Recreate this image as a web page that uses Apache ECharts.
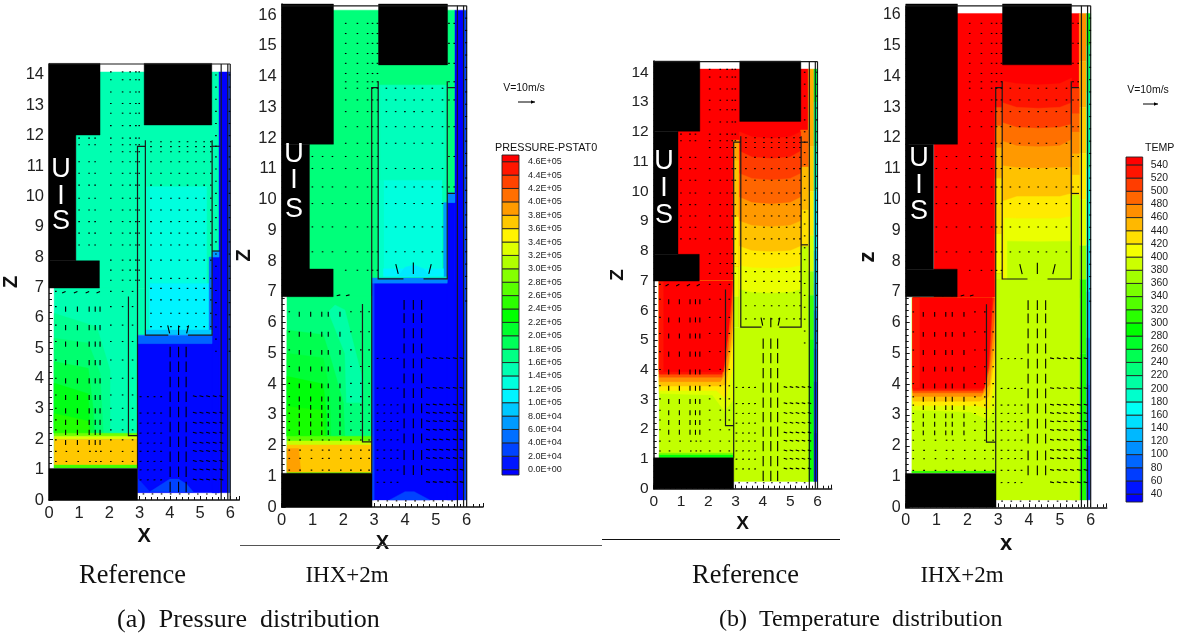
<!DOCTYPE html>
<html>
<head>
<meta charset="utf-8">
<style>html,body{margin:0;padding:0;background:#fff}#c{width:1181px;height:638px}</style>
<script src="https://cdn.jsdelivr.net/npm/echarts@6/dist/echarts.min.js"></script>
</head>
<body>
<div id="c"></div>
<script>
// ---------- legend scales ----------
const pressureLevels = [0,2e4,4e4,6e4,8e4,1e5,1.2e5,1.4e5,1.6e5,1.8e5,2e5,2.2e5,2.4e5,2.6e5,2.8e5,3e5,3.2e5,3.4e5,3.6e5,3.8e5,4e5,4.2e5,4.4e5,4.6e5];
const pressureLabels = ["0.0E+00","2.0E+04","4.0E+04","6.0E+04","8.0E+04","1.0E+05","1.2E+05","1.4E+05","1.6E+05","1.8E+05","2.0E+05","2.2E+05","2.4E+05","2.6E+05","2.8E+05","3.0E+05","3.2E+05","3.4E+05","3.6E+05","3.8E+05","4.0E+05","4.2E+05","4.4E+05","4.6E+05"];
const tempLevels = [40,60,80,100,120,140,160,180,200,220,240,260,280,300,320,340,360,380,400,420,440,460,480,500,520,540];

// ---------- solid structure (x0,x1,z0,z1) ----------
const refBlocks = [[0,1.69,12.02,14.38],[0,0.89,7.88,12.02],[0,1.67,6.98,7.88],[3.15,5.39,12.35,14.38],[0,2.93,0,1.04]];
const ihxBlocks = [[0,1.68,11.8,16.36],[0,0.9,7.74,11.8],[0,1.67,6.84,7.74],[3.14,5.38,14.38,16.36],[0,2.93,0,1.1]];

// ---------- baffles and walls, polylines of [x,z] ----------
const refBaffles = [
  [[0,14.36],[6,14.36]],
  [[2.93,1.04],[2.93,11.65],[3.19,11.65]],
  [[3.19,11.85],[3.19,5.43],[3.95,5.43]],
  [[4.6,5.43],[5.4,5.43],[5.4,11.85]],
  [[5.4,11.65],[5.65,11.65]],
  [[5.4,8.2],[5.65,8.2]],
  [[2.63,6.7],[2.63,2.12],[2.93,2.12]],
  [[5.7,0],[5.7,14.36]],[[5.92,0],[5.92,14.36]],[[6,0],[6,14.36]]
];
const ihxBaffles = [
  [[0,16.3],[6,16.3]],
  [[2.92,1.1],[2.92,13.64],[3.13,13.64]],
  [[3.13,13.85],[3.13,7.42],[3.95,7.42]],
  [[4.6,7.42],[5.37,7.42],[5.37,13.85]],
  [[5.37,13.64],[5.62,13.64]],
  [[5.37,10.2],[5.62,10.2]],
  [[2.62,6.6],[2.62,2.12],[2.92,2.12]],
  [[5.7,0],[5.7,16.3]],[[5.9,0],[5.9,16.3]],[[6,0],[6,16.3]]
];

// ---------- velocity vectors in m/s, groups of columns x rows ----------
const refVectors = [
  {xs:[0.97,1.3,1.5],zs:[11.92,11.7,11.14,10.76,10.37,9.94,9.55,9.17,8.79,8.4],u:0.3,v:0},
  {xs:[2.02,2.41,2.66,2.85,2.96],zs:[14.1,13.84,13.44,13.06,12.74,12.33,11.92,11.7,11.47,11.14,10.76,10.37,9.94,9.55,9.17,8.79,8.4,7.9,7.57,7.24],u:0.5,v:0},
  {xs:[3.35,3.68,4.01,4.29,4.56,4.84,5.11,5.33],zs:[11.8,11.64,11.47,11.14,10.76,10.37,9.94,9.55,9.17,8.79,8.4,7.9,7.3,6.97,6.59,6.15,5.71],u:0,v:-0.8},
  {xs:[5.5,5.95],zs:[14.0,13.6,13.2,12.8,12.4,12,11.65,11.3,10.9,10.5,10.1,9.7,9.3,8.9,8.5,8.1,7.7,7.3,6.9,6.5,6.1,5.7,5.3,4.9],u:1,v:0},
  {xs:[0.55,0.94,1.33,1.53,1.69],zs:[6.37,5.76,5.22,4.61,4.01,3.46,3.02,2.64,2.31,1.98],u:0,v:-3.2},
  {xs:[0.55,0.94,1.33,1.69],zs:[6.87],u:-2.2,v:-1},
  {xs:[0.2,2.02,2.41,2.74],zs:[6.87,6.37,5.76,5.22,4.61,4.01,3.46,3.02,2.64,2.31,1.98,1.6,1.27],u:0.5,v:-0.4},
  {xs:[0.55,0.94,1.33,1.53,1.69],zs:[1.6,1.27],u:0,v:-0.8},
  {xs:[4.01,4.29,4.54],zs:[5.05,4.56,4.06,3.57,3.07,2.58,2.09,1.6,1.1,0.6],u:0,v:-6.5},
  {xs:[3.93],zs:[5.75],u:1.2,v:-5},{xs:[4.62],zs:[5.75],u:-1.2,v:-5},{xs:[4.29],zs:[5.75],u:0,v:-6},
  {xs:[4.89,5.11,5.33,5.55,5.77],zs:[3.4,2.86,2.53,2.2,1.87,1.6,1.27,0.99,0.66],u:-2.4,v:0.6},
  {xs:[3.0,3.24,3.46,3.68],zs:[3.4,2.86,2.53,2.2,1.87,1.6,1.27,0.99,0.66],u:1.2,v:0.1},
  {xs:[3.1,3.4,3.7,4.0,4.3,4.6,4.9,5.2,5.5],zs:[0.2],u:0.8,v:0}
];
const ihxVectors = [
  {xs:[0.97,1.3,1.62],zs:[11.4,11.01,10.41,9.87,9.11,8.3],u:0.8,v:0},
  {xs:[2.05,2.43,2.76,2.92,3.08],zs:[15.73,15.4,15.08,14.75,14.43,14.1,13.83,13.62,13.24,12.86,12.37,11.83,11.4,11.01,10.41,9.87,9.11,8.3,7.7],u:0.6,v:0},
  {xs:[3.37,3.67,3.97,4.27,4.54,4.86,5.19],zs:[13.62,13.24,12.86,12.37,11.83,11.01,10.41,9.87,9.11,8.3],u:0,v:-0.8},
  {xs:[5.4,5.57],zs:[15.73,15.08,14.43,13.83,13.24,12.37,11.4,10.41],u:0.8,v:0},
  {xs:[5.95],zs:[15.9,15.5,15.1,14.7,14.3,13.9,13.5,13.1,12.7,12.3,11.9,11.5,11.1,10.7,10.3,9.9,9.5,9.1,8.7,8.3,7.9,7.5,7.1,6.7],u:1.2,v:0},
  {xs:[0.57,0.94,1.3,1.51,1.89],zs:[6.35,5.7,5.11,4.57,4.02,3.59,3.32,3.05,2.78,2.5],u:0,v:-3},
  {xs:[1.3,1.6,1.9,2.2],zs:[6.9],u:-2.2,v:-0.6},
  {xs:[0.22,2.22,2.54,2.81],zs:[6.35,5.7,5.11,4.57,4.02,3.59,3.32,3.05,2.78,2.5,2.18,1.85,1.58,1.2],u:0.6,v:-0.3},
  {xs:[0.57,0.94,1.3,1.51,1.89],zs:[2.18,1.85,1.58,1.2],u:0.4,v:-0.8},
  {xs:[3.97,4.27,4.54],zs:[6.73,6.3,5.81,5.32,4.83,4.34,3.86,3.37,2.88,2.39,1.85,1.36],u:0,v:-6},
  {xs:[3.7],zs:[7.9],u:1.5,v:-6},{xs:[4.85],zs:[7.9],u:-1.5,v:-6},{xs:[4.27],zs:[7.95],u:0,v:-7},
  {xs:[4.81,5.03,5.24,5.46,5.68,5.9],zs:[4.83,3.86,3.32,3.05,2.78,2.5,2.18,1.85,1.58,1.2,0.8],u:-2.4,v:0.5},
  {xs:[3.08,3.3,3.52,3.73],zs:[4.83,3.86,3.32,3.05,2.78,2.5,2.18,1.85,1.58,1.2,0.8],u:1.1,v:0.1},
  {xs:[3.1,3.4,3.7,4.0,4.3,4.6,4.9,5.2,5.5],zs:[0.2],u:0.8,v:0}
];

// ---------- fields: [value,x0,x1,z0,z1] or [value,x,z,x,z,...], painted in order ----------
const pressureRefCells = [
  [1.5e5,0.89,5.63,6.98,14.1],
  [1.5e5,2.93,3.19,5.43,6.98],
  [0,5.63,5.93,0.24,14.1],[0.3e5,5.93,6,0.24,14.1],
  [0.03e5,2.93,5.63,0.24,5.4],[0.03e5,5.4,5.63,0.24,8.0],[0.7e5,5.4,5.63,8.0,8.2],
  [1.4e5,3.19,3.34,5.5,10.32],[1.3e5,3.34,5.22,7.13,10.32],[1.1e5,3.34,5.3,5.6,7.13],
  [0.5e5,5.3,5.4,5.5,8.0],
  [0.9e5,3.19,5.4,5.43,5.6],[0.45e5,2.93,5.4,5.15,5.43],
  [1.5e5,0.17,2.93,1.05,6.98],
  [1.65e5, 0.17,6.15, 1.58,5.71, 2.02,4.28, 2.02,2.2, 0.17,2.2],
  [1.8e5, 0.17,5.33, 1.3,5.17, 1.69,4.17, 1.8,2.2, 0.17,2.2],
  [2.0e5, 0.17,4.56, 1.3,4.34, 1.47,2.96, 1.5,2.2, 0.17,2.2],
  [2.2e5, 0.17,3.85, 1.3,3.5, 1.36,2.2, 0.17,2.2],
  [2.45e5, 0.17,2.85, 1.3,2.6, 1.36,2.2, 0.17,2.2],
  [2.8e5,0.17,2.93,2.1,2.2],[3.3e5,0.17,2.93,2.0,2.1],[3.7e5,0.17,2.93,1.15,2.0],[2.6e5,0.17,2.93,1.05,1.15],
  [0.3e5, 3.34,0.27, 4.0,0.69, 4.29,0.69, 4.56,0.52, 4.78,0.26],
  [0.2e5, 2.95,0.26, 2.95,0.7, 3.34,0.27]
];
const pressureIhxCells = [
  [1.75e5,0.89,5.62,6.86,16.16],
  [0,5.62,5.9,0.23,16.16],[0.3e5,5.9,6,0.23,16.16],
  [0.02e5,2.92,5.62,0.23,7.3],[0.02e5,5.37,5.62,0.23,9.9],[0.6e5,5.37,5.62,9.9,10.22],
  [0.3e5,2.92,3.0,0.23,7.3],
  [1.5e5,3.13,5.37,7.45,13.72],[1.45e5,3.2,5.27,10.63,13.72],[1.3e5,3.3,5.2,7.55,10.63],
  [1.4e5,3.15,3.3,7.5,10.63],[0.7e5,5.25,5.37,7.5,9.9],
  [1.1e5,3.3,5.25,7.5,7.75],
  [1.05e5, 3.78,7.5, 4.0,7.8, 4.3,7.87, 4.6,7.75, 4.8,7.5],
  [0.6e5,2.92,5.37,7.28,7.45],
  [1.75e5,0.17,2.92,1.09,6.86],
  [1.55e5, 1.51,6.35, 1.73,6.57, 2.05,6.41, 2.63,4.13, 2.6,3.4, 2.1,3.4, 2.05,5.0],
  [1.94e5, 0.17,5.76, 1.35,5.6, 1.6,4.8, 2.0,3.4, 2.05,2.3, 0.17,2.3],
  [2.05e5, 0.17,5.0, 1.35,4.85, 1.55,3.8, 1.6,2.3, 0.17,2.3],
  [2.25e5, 0.17,4.25, 1.35,4.0, 1.45,3.0, 1.45,2.3, 0.17,2.3],
  [2.4e5, 0.17,3.27, 1.3,3.15, 1.4,2.3, 0.17,2.3],
  [2.7e5,0.17,2.92,2.15,2.3],[3.2e5,0.17,2.92,2.02,2.15],[3.7e5,0.17,2.92,1.12,2.02],[3.0e5,0.17,2.92,1.09,1.12],
  [3.88e5, 0.17,1.15, 0.62,1.15, 0.55,1.9, 0.17,1.9],
  [0.3e5, 3.5,0.23, 4.0,0.5, 4.3,0.5, 4.8,0.23]
];
const tempRefCells = [
  [550,0.89,5.66,6.98,14.11],
  [455,5.66,5.87,11.5,14.11],[440,5.66,5.87,10,11.5],[425,5.66,5.87,8.5,10],[395,5.66,5.87,7.3,8.5],[360,5.66,5.87,6.5,7.3],[320,5.66,5.87,5,6.5],[300,5.66,5.87,0.24,5],
  [260,5.87,6,13,14.11],[225,5.87,6,11.5,13],[200,5.87,6,10,11.5],[165,5.87,6,8,10],[145,5.87,6,6.9,8],[135,5.87,6,6,6.9],[110,5.87,6,4.7,6],[95,5.87,6,3.6,4.7],[70,5.87,6,1.9,3.6],[55,5.87,6,0.24,1.9],
  [490,5.38,5.66,10.82,12.06],[450,5.38,5.66,9.37,10.82],[430,5.38,5.66,8.14,9.37],
  [460,2.92,3.14,11.05,11.72],[445,2.92,3.14,9.15,11.05],[425,2.92,3.14,7.46,9.15],[405,2.92,3.14,6.45,7.46],[385,2.92,3.14,5.43,6.45],
  [530, 3.14,12.0, 3.6,11.83, 4.3,11.78, 5.0,11.83, 5.38,12.0, 5.38,5.43, 3.14,5.43],
  [510, 3.14,11.35, 3.6,11.15, 4.3,11.1, 5.0,11.15, 5.38,11.35, 5.38,5.43, 3.14,5.43],
  [490, 3.14,10.6, 3.6,10.43, 4.3,10.38, 5.0,10.43, 5.38,10.6, 5.38,5.43, 3.14,5.43],
  [465, 3.14,9.8, 3.6,9.62, 4.3,9.57, 5.0,9.62, 5.38,9.8, 5.38,5.43, 3.14,5.43],
  [445, 3.14,9.0, 3.6,8.85, 4.3,8.81, 5.0,8.85, 5.38,9.0, 5.38,5.43, 3.14,5.43],
  [425, 3.14,8.15, 3.6,8.0, 4.3,7.97, 5.0,8.0, 5.38,8.15, 5.38,5.43, 3.14,5.43],
  [405, 3.14,7.5, 3.6,7.43, 4.3,7.41, 5.0,7.43, 5.38,7.5, 5.38,5.43, 3.14,5.43],
  [385, 3.14,6.7, 3.6,6.6, 4.3,6.57, 5.0,6.6, 5.38,6.7, 5.38,5.43, 3.14,5.43],
  [385,2.92,5.66,0.24,5.43],[385,5.38,5.66,0.24,8.14],
  [385,0.2,2.92,1.04,6.98],
  [400, 0.2,3.2, 2.15,3.15, 2.6,2.6, 2.92,3.0, 2.92,6.98, 0.2,6.98],
  [425, 0.2,3.3, 2.3,3.3, 2.65,3.0, 2.92,4.2, 2.92,6.98, 0.2,6.98],
  [445, 0.2,3.45, 2.4,3.45, 2.65,3.5, 2.9,5.0, 2.92,6.98, 0.2,6.98],
  [470, 0.2,3.6, 2.45,3.6, 2.7,4.0, 2.9,5.5, 2.92,6.98, 0.2,6.98],
  [500, 0.2,3.75, 2.5,3.75, 2.7,4.5, 2.88,6.0, 2.92,6.98, 0.2,6.98],
  [530, 0.2,3.85, 2.5,3.85, 2.7,5.0, 2.85,6.3, 2.9,6.98, 0.2,6.98],
  [550, 0.2,3.93, 2.55,3.93, 2.75,5.5, 2.85,6.8, 2.85,6.98, 0.2,6.98],
  [530,0.2,0.35,3.93,6.98],
  [285,0.2,2.92,1.04,1.15],[350,0.2,2.92,1.15,1.2]
];
const tempIhxCells = [
  [550,0.92,5.63,6.81,16.05],
  [470,5.63,5.87,14.5,16.05],[455,5.63,5.87,13,14.5],[440,5.63,5.87,11.5,13],[425,5.63,5.87,10,11.5],[400,5.63,5.87,8.5,10],[360,5.63,5.87,7.4,8.5],[315,5.63,5.87,5,7.4],[305,5.63,5.87,0.24,5],
  [275,5.87,6,15,16.05],[235,5.87,6,13.5,15],[210,5.87,6,11,13.5],[180,5.87,6,8.5,11],[155,5.87,6,7,8.5],[135,5.87,6,5.5,7],[110,5.87,6,4,5.5],[95,5.87,6,2,4],[70,5.87,6,0.24,2],
  [510,5.38,5.63,12.8,13.64],[490,5.38,5.63,12.2,12.8],[470,5.38,5.63,11.5,12.2],[450,5.38,5.63,10.8,11.5],[430,5.38,5.63,10.15,10.8],
  [530,2.9,3.15,13.0,13.64],[500,2.9,3.15,12.4,13.0],[470,2.9,3.15,11.7,12.4],[450,2.9,3.15,10.7,11.7],[430,2.9,3.15,8.9,10.7],[410,2.9,3.15,7.6,8.9],[395,2.9,3.15,7.39,7.6],
  [530, 3.15,13.85, 3.6,13.77, 4.3,13.73, 5.0,13.77, 5.38,13.95, 5.38,7.39, 3.15,7.39],
  [510, 3.15,13.15, 3.6,13.0, 4.3,12.97, 5.0,13.0, 5.38,13.15, 5.38,7.39, 3.15,7.39],
  [485, 3.15,12.5, 3.6,12.35, 4.3,12.32, 5.0,12.35, 5.38,12.45, 5.38,7.39, 3.15,7.39],
  [465, 3.15,11.9, 3.6,11.75, 4.3,11.72, 5.0,11.75, 5.38,11.95, 5.38,7.39, 3.15,7.39],
  [445, 3.15,11.1, 3.6,11.04, 4.3,11.02, 5.0,11.04, 5.38,11.05, 5.38,7.39, 3.15,7.39],
  [425, 3.15,9.95, 3.6,10.1, 4.3,10.1, 5.0,10.1, 5.38,10.2, 5.38,7.39, 3.15,7.39],
  [405, 3.2,9.4, 3.6,9.39, 4.3,9.39, 5.0,9.39, 5.38,9.45, 5.38,7.39, 3.2,7.39],
  [385, 3.3,8.65, 4.3,8.63, 5.38,8.65, 5.38,7.39, 3.3,7.39],
  [385,2.9,5.63,0.24,7.39],[385,5.38,5.63,0.24,10.15],
  [385,0.2,2.9,1.12,6.81],
  [400, 0.23,3.16, 2.1,3.1, 2.68,2.84, 2.9,3.3, 2.9,6.81, 0.23,6.81],
  [425, 0.23,3.3, 2.3,3.3, 2.7,3.2, 2.9,4.2, 2.9,6.81, 0.23,6.81],
  [445, 0.23,3.45, 2.4,3.45, 2.7,3.6, 2.9,5.0, 2.9,6.81, 0.23,6.81],
  [470, 0.23,3.6, 2.45,3.6, 2.72,4.0, 2.88,5.5, 2.9,6.81, 0.23,6.81],
  [500, 0.23,3.72, 2.5,3.72, 2.72,4.5, 2.86,6.0, 2.9,6.81, 0.23,6.81],
  [530, 0.23,3.8, 2.5,3.8, 2.7,4.6, 2.8,6.3, 2.85,6.81, 0.23,6.81],
  [550, 0.23,3.87, 2.55,3.87, 2.7,5.0, 2.8,6.81, 0.23,6.81],
  [530,0.23,0.45,3.87,6.81],
  [300,0.2,2.9,1.12,1.17]
];

// ---------- lettering inside the solid block ----------
const uisA = [["U",0.4,10.9],["I",0.4,9.98],["S",0.4,9.16]];
const uisB = [["U",0.4,11.45],["I",0.4,10.63],["S",0.4,9.66]];
const uisC = [["U",0.38,10.99],["I",0.38,10.1],["S",0.38,9.2]];
const uisD = [["U",0.43,11.35],["I",0.43,10.47],["S",0.43,9.6]];

// ---------- colour scale: blue, cyan, green, yellow, red ----------
function rainbow(t){
  const s=Math.max(0,Math.min(1,t))*4; let r=0,g=0,b=0;
  if(s<1){g=255*s;b=255;} else if(s<2){g=255;b=255*(2-s);} else if(s<3){r=255*(s-2);g=255;} else {r=255;g=255*(4-s);}
  return 'rgb('+Math.round(r)+','+Math.round(g)+','+Math.round(b)+')';
}
const pressureColor = v=>rainbow(v/4.6e5);
const tempColor = v=>rainbow((v-40)/500);

// ---------- layout ----------
const panels = [
  {left:49,   top:64,  width:190.3,height:436,  xMax:6.3, zMax:14.36,xName:'X',zName:'Z',nameSize:20,labelSize:16.5,xGap:14,zGap:18,cells:pressureRefCells,color:pressureColor,blocks:refBlocks,baffles:refBaffles,vectors:refVectors,uis:uisA},
  {left:281.7,top:4,   width:201.3,height:503,  xMax:6.53,zMax:16.36,xName:'X',zName:'Z',nameSize:20,labelSize:16.5,xGap:16,zGap:19,cells:pressureIhxCells,color:pressureColor,blocks:ihxBlocks,baffles:ihxBaffles,vectors:ihxVectors,uis:uisB},
  {left:653.7,top:61,  width:178,  height:427.7,xMax:6.52,zMax:14.38,xName:'X',zName:'Z',nameSize:19,labelSize:15.5,xGap:14,zGap:16,cells:tempRefCells,color:tempColor,blocks:refBlocks,baffles:refBaffles,vectors:refVectors,uis:uisC},
  {left:905.7,top:6.7, width:201,  height:500.6,xMax:6.52,zMax:16.27,xName:'x',zName:'z',nameSize:22,labelSize:16,xGap:11,zGap:15,cells:tempIhxCells,color:tempColor,blocks:ihxBlocks,baffles:ihxBaffles,vectors:ihxVectors,uis:uisD}
];
const velScale = 0.053;
const font = 'Liberation Sans';
const inkColor = '#222';

const grid=[],xAxis=[],yAxis=[],series=[];
function customSeries(idx,list,draw,z){
  return {type:'custom',xAxisIndex:idx,yAxisIndex:idx,silent:true,animation:false,z:z,
    data:list.map((_,i)=>[i,0]),
    renderItem:(p,api)=>draw(list[api.value(0)],api)};
}
function fillShape(points,color){
  return {type:'polygon',shape:{points},style:{fill:color,stroke:color,lineWidth:0.4}};
}
function cellPoints(c,api){
  if(c.length===5) return [[c[1],c[3]],[c[2],c[3]],[c[2],c[4]],[c[1],c[4]]].map(q=>api.coord(q));
  const pts=[]; for(let i=1;i<c.length;i+=2) pts.push(api.coord([c[i],c[i+1]]));
  return pts;
}
panels.forEach((p,i)=>{
  grid.push({left:p.left,top:p.top,width:p.width,height:p.height,containLabel:false});
  const label={fontFamily:font,fontSize:p.labelSize,color:inkColor,margin:5,
    formatter:v=>Number.isInteger(v)?String(v):''};
  const axisBase={type:'value',min:0,interval:1,gridIndex:i,nameLocation:'middle',
    nameTextStyle:{fontFamily:font,fontWeight:'bold',fontSize:p.nameSize,color:'#111'},
    axisLine:{show:true,onZero:false,lineStyle:{color:'#111',width:1.5}},
    axisTick:{show:true,inside:true,length:4,lineStyle:{color:'#111'}},
    minorTick:{show:true,splitNumber:5,length:3,lineStyle:{color:'#111'}},
    splitLine:{show:false},axisLabel:label};
  xAxis.push(Object.assign({},axisBase,{max:p.xMax,name:p.xName,nameGap:p.xGap,position:'bottom'}));
  yAxis.push(Object.assign({},axisBase,{max:p.zMax,name:p.zName,nameGap:p.zGap,position:'left'}));
  series.push(customSeries(i,p.cells,(c,api)=>fillShape(cellPoints(c,api),p.color(c[0])),2));
  series.push(customSeries(i,p.blocks,(b,api)=>fillShape(cellPoints([0].concat(b),api),'#000'),3));
  series.push(customSeries(i,p.baffles,(b,api)=>({type:'polyline',shape:{points:b.map(q=>api.coord(q))},style:{fill:null,stroke:'#1a1a1a',lineWidth:1.2}}),4));
  const arrows=[];
  p.vectors.forEach(g=>g.xs.forEach(x=>g.zs.forEach(z=>arrows.push([x,z,g.u,g.v]))));
  series.push(customSeries(i,arrows,(a,api)=>{
    const s=api.coord([a[0],a[1]]);
    const e=api.coord([a[0]+a[2]*velScale,a[1]+a[3]*velScale]);
    let dx=e[0]-s[0],dy=e[1]-s[1],len=Math.hypot(dx,dy);
    if(len<1.6){dx=1.6;dy=0;len=1.6;}
    return {type:'polyline',shape:{points:[s,[s[0]+dx,s[1]+dy]]},style:{fill:null,stroke:'#000',lineWidth:1.1}};
  },5));
  series.push(customSeries(i,p.uis,(u,api)=>{
    const c=api.coord([u[1],u[2]]);
    return {type:'text',style:{x:c[0],y:c[1],text:u[0],fill:'#fff',font:'27px "'+font+'"',textAlign:'center',textVerticalAlign:'middle'}};
  },6));
});

// ---------- colour legends ----------
function addLegend(idx,box,levels,labels,minV,maxV,color,size,margin){
  grid.push({left:box.left,top:box.top,width:box.width,height:box.height,containLabel:false});
  xAxis.push({type:'value',gridIndex:idx,min:0,max:1,show:false});
  yAxis.push({type:'value',gridIndex:idx,min:minV,max:maxV,position:'right',scale:true,
    axisLine:{show:false},axisTick:{show:false},splitLine:{show:false},
    axisLabel:{customValues:levels,fontFamily:font,fontSize:size,color:'#222',margin:margin,
      formatter:v=>labels[levels.indexOf(v)]}});
  const edges=[minV].concat(levels,[maxV]);
  const bands=[];
  for(let i=0;i<edges.length-1;i++){
    const topBand=i===edges.length-2, lowBand=i===0;
    bands.push([edges[i],edges[i+1],topBand?maxV+1e9:(lowBand?edges[1]-1e9:(edges[i]+edges[i+1])/2)]);
  }
  series.push(customSeries(idx,bands,(b,api)=>{
    const a=api.coord([0,b[0]]),c=api.coord([1,b[1]]);
    return {type:'rect',shape:{x:a[0],y:c[1],width:c[0]-a[0],height:a[1]-c[1]},
      style:{fill:color(b[2]),stroke:'#222',lineWidth:0.9}};
  },3));
}
addLegend(4,{left:502,top:155,width:17,height:320},pressureLevels,pressureLabels,-8000,470000,pressureColor,9,9);
addLegend(5,{left:1126,top:157,width:16.7,height:345},tempLevels,tempLevels.map(String),28,552,tempColor,10.4,8);

// ---------- text and rules around the plots ----------
function txt(x,y,text,f,align){
  return {type:'text',silent:true,z:20,style:{x,y,text,font:f,fill:'#111',textAlign:align||'center',textVerticalAlign:'middle'}};
}
function rule(x1,y1,x2,y2,c,w){
  return {type:'line',silent:true,z:20,shape:{x1,y1,x2,y2},style:{stroke:c,lineWidth:w}};
}
function key(x2,y){
  return {type:'polygon',silent:true,z:20,shape:{points:[[x2,y],[x2-4,y-1.7],[x2-4,y+1.7]]},style:{fill:'#000'}};
}
const serif='"Liberation Serif"', sans='"Liberation Sans"';
const graphic=[
  rule(240,545.5,602,545.5,'#555',1), rule(602,539.5,840,539.5,'#111',1.2),
  txt(132.5,576,'Reference','26.4px '+serif), txt(347,576,'IHX+2m','23px '+serif),
  txt(745.5,576,'Reference','26.4px '+serif), txt(962,576,'IHX+2m','23px '+serif),
  txt(117,620,'(a)  Pressure  distribution','26px '+serif,'left'),
  txt(719,620,'(b)  Temperature  distribution','24px '+serif,'left'),
  txt(495,148,'PRESSURE-PSTAT0','10.8px '+sans,'left'),
  txt(1145,148,'TEMP','10.6px '+sans,'left'),
  txt(524,88,'V=10m/s','10.5px '+sans), txt(1148,90,'V=10m/s','10.5px '+sans),
  rule(518,102,535,102,'#000',1), key(535,102),
  rule(1143,104,1158,104,'#000',1), key(1158,104)
];

const chart=echarts.init(document.getElementById('c'));
chart.setOption({animation:false,backgroundColor:'#fff',grid,xAxis,yAxis,series,graphic});
</script>
</body>
</html>
